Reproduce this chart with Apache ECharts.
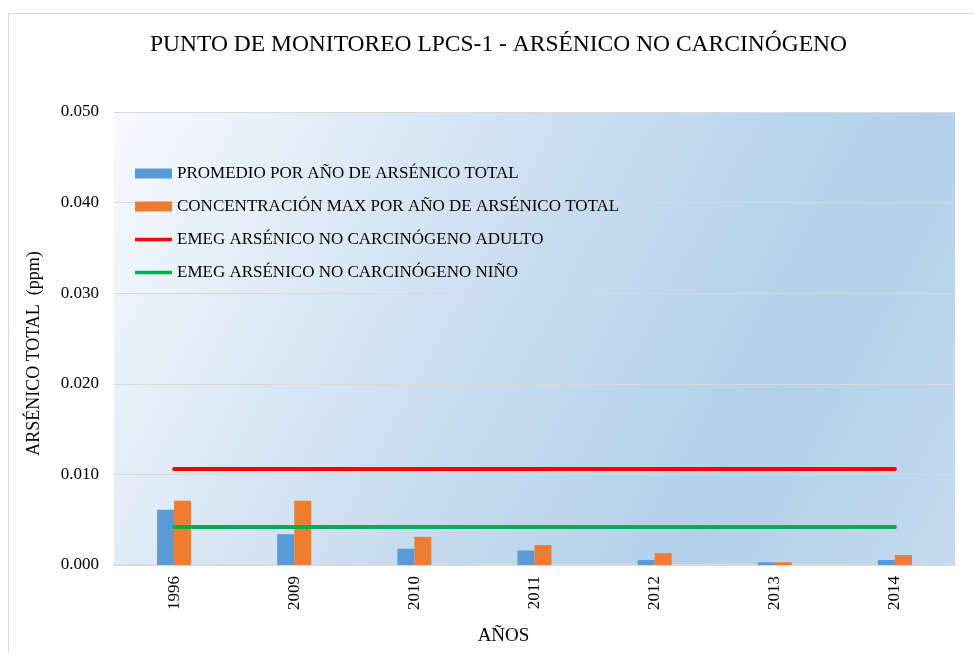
<!DOCTYPE html>
<html>
<head>
<meta charset="utf-8">
<script src="https://cdn.jsdelivr.net/npm/echarts@6/dist/echarts.min.js"></script>
<style>
  html, body { margin: 0; padding: 0; background: #fff; }
  #chart { width: 974px; height: 653px; }
</style>
</head>
<body>
<div id="chart"></div>
<script>
// años de muestreo
const years = ["1996", "2009", "2010", "2011", "2012", "2013", "2014"];
const promedio = [0.0061, 0.0034, 0.0018, 0.0016, 0.00055, 0.0003, 0.00055];
const maximo = [0.0071, 0.0071, 0.0031, 0.0022, 0.0013, 0.0003, 0.0011];
const emegAdulto = [0.0106, 0.0106, 0.0106, 0.0106, 0.0106, 0.0106, 0.0106];
const emegNino = [0.0042, 0.0042, 0.0042, 0.0042, 0.0042, 0.0042, 0.0042];
const yTicks = [0, 0.01, 0.02, 0.03, 0.04, 0.05];

const serif = "'Liberation Serif', 'Times New Roman', serif";
const lineIcon = "path://M0,0 L40,0 L40,4 L0,4 Z";

const chart = echarts.init(document.getElementById("chart"));

chart.setOption({
    animation: false,
    textStyle: { fontFamily: serif, color: "#000" },
    title: {
        text: "PUNTO DE MONITOREO LPCS-1 - ARSÉNICO NO CARCINÓGENO",
        left: 145,
        top: 28,
        textStyle: { fontFamily: serif, fontSize: 23.5, fontWeight: "normal", color: "#000" }
    },
    graphic: [{
        type: "rect",
        shape: { x: 8.5, y: 13.5, width: 1000, height: 700 },
        style: { fill: "none", stroke: "#d9d9d9", lineWidth: 1 },
        silent: true
    }],
    legend: {
        orient: "vertical",
        left: 130,
        top: 160,
        itemWidth: 37,
        itemHeight: 10,
        itemGap: 16,
        textStyle: { fontFamily: serif, fontSize: 17, lineHeight: 16.7, color: "#000" },
        data: [
            { name: "PROMEDIO POR AÑO DE ARSÉNICO TOTAL", icon: "rect" },
            { name: "CONCENTRACIÓN MAX POR AÑO DE ARSÉNICO TOTAL", icon: "rect" },
            { name: "EMEG ARSÉNICO NO CARCINÓGENO ADULTO", icon: lineIcon },
            { name: "EMEG ARSÉNICO NO CARCINÓGENO NIÑO", icon: lineIcon }
        ]
    },
    grid: {
        left: 114,
        right: 19,
        top: 112,
        bottom: 88,
        outerBoundsMode: "none",
        show: true,
        borderWidth: 0,
        backgroundColor: new echarts.graphic.LinearGradient(0, 0, 1, 1, [
            { offset: 0, color: "#f7fafd" },
            { offset: 0.45, color: "#c9ddf0" },
            { offset: 0.75, color: "#b3d1ea" },
            { offset: 1, color: "#c4daee" }
        ])
    },
    xAxis: {
        type: "category",
        data: years,
        name: "AÑOS",
        nameLocation: "middle",
        nameGap: 62,
        nameTextStyle: { fontFamily: serif, fontSize: 19, color: "#000", padding: [0, 62, 0, 0] },
        axisLine: { lineStyle: { color: "#d9d9d9", width: 2 } },
        axisTick: { show: false },
        axisLabel: { rotate: 90, fontFamily: serif, fontSize: 17, color: "#000", margin: 11 }
    },
    yAxis: {
        type: "value",
        min: yTicks[0],
        max: yTicks[yTicks.length - 1],
        interval: 0.01,
        name: "ARSÉNICO TOTAL  (ppm)",
        nameLocation: "middle",
        nameGap: 71,
        nameTextStyle: { fontFamily: serif, fontSize: 18, color: "#000", padding: [0, 30, 0, 0] },
        axisLine: { show: false },
        axisTick: { show: false },
        splitLine: { lineStyle: { color: "#d9d9d9", width: 1 } },
        axisLabel: {
            fontFamily: serif, fontSize: 17, color: "#000", margin: 15,
            formatter: (v) => v.toFixed(3)
        }
    },
    series: [
        {
            name: "PROMEDIO POR AÑO DE ARSÉNICO TOTAL",
            type: "bar",
            data: promedio,
            barWidth: 17,
            barGap: "0%",
            itemStyle: { color: "#5b9bd5" }
        },
        {
            name: "CONCENTRACIÓN MAX POR AÑO DE ARSÉNICO TOTAL",
            type: "bar",
            data: maximo,
            barWidth: 17,
            barGap: "0%",
            itemStyle: { color: "#ed7d31" }
        },
        {
            name: "EMEG ARSÉNICO NO CARCINÓGENO ADULTO",
            type: "line",
            data: emegAdulto,
            symbol: "none",
            lineStyle: { color: "#ff0000", width: 4, cap: "round" },
            itemStyle: { color: "#ff0000" }
        },
        {
            name: "EMEG ARSÉNICO NO CARCINÓGENO NIÑO",
            type: "line",
            data: emegNino,
            symbol: "none",
            lineStyle: { color: "#00b050", width: 4, cap: "round" },
            itemStyle: { color: "#00b050" }
        }
    ]
});
</script>
</body>
</html>
